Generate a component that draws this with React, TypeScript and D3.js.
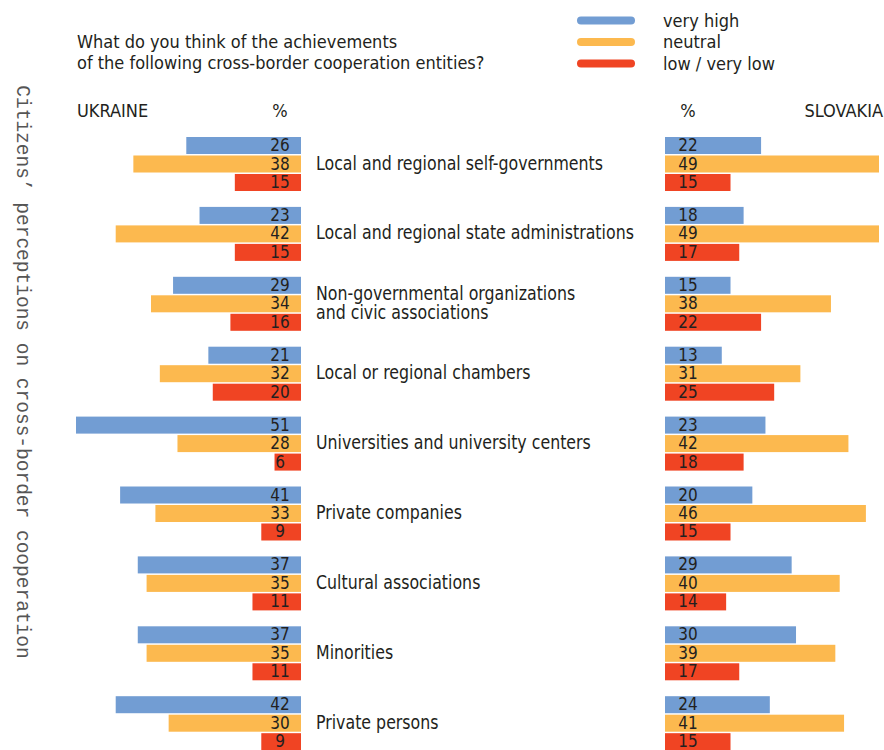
import React from "react";
import * as d3 from "d3";

const categories = [
  ["Local and regional self-governments"],
  ["Local and regional state administrations"],
  ["Non-governmental organizations", "and civic associations"],
  ["Local or regional chambers"],
  ["Universities and university centers"],
  ["Private companies"],
  ["Cultural associations"],
  ["Minorities"],
  ["Private persons"],
];
const seriesNames = ["very high", "neutral", "low / very low"];
const seriesColors = ["#729dd3", "#fcb94f", "#f04423"];

const ukraineVeryHigh = [26, 23, 29, 21, 51, 41, 37, 37, 42];
const ukraineNeutral = [38, 42, 34, 32, 28, 33, 35, 35, 30];
const ukraineLow = [15, 15, 16, 20, 6, 9, 11, 11, 9];

const slovakiaVeryHigh = [22, 18, 15, 13, 23, 20, 29, 30, 24];
const slovakiaNeutral = [49, 49, 38, 31, 42, 46, 40, 39, 41];
const slovakiaLow = [15, 17, 22, 25, 18, 15, 14, 17, 15];

const titleLines = [
  "What do you think of the achievements",
  "of the following cross-border cooperation entities?",
];
const sideTitle = "Citizens’ perceptions on cross-border cooperation";

const FONT = "'DejaVu Sans', sans-serif";
const TEXT = "#231f20";

export default function App() {
  const W = 884, H = 750;
  const ukr = [ukraineVeryHigh, ukraineNeutral, ukraineLow];
  const svk = [slovakiaVeryHigh, slovakiaNeutral, slovakiaLow];
  const idx = categories.map((_, i) => String(i));
  const yGroup = d3.scaleBand<string>().domain(idx).range([137, 137 + 69.9 * 9]).paddingInner(0);
  const yInner = d3.scaleBand<string>().domain(["0", "1", "2"]).range([0, 54]).paddingInner(0.08).paddingOuter(0);
  const xL = d3.scaleLinear().domain([0, 51]).range([301, 76]);
  const xR = d3.scaleLinear().domain([0, 49]).range([665, 879]);
  const bw = yInner.bandwidth();

  return (
    <svg width={W} height={H} style={{ position: "absolute", left: 0, top: 0, background: "#fff", fontStretch: "condensed" }} fontFamily={FONT}>
      {/* side title */}
      <text transform={`translate(22,372) rotate(90)`} textAnchor="middle" dominantBaseline="central"
        fontFamily="'Liberation Mono', 'DejaVu Sans Mono', monospace" fontSize={19.5} fill="#555" style={{ fontStretch: "normal" }}>
        {sideTitle}
      </text>
      {/* title */}
      {titleLines.map((t, i) => (
        <text key={i} x={77} y={48 + i * 21} fontSize={18} fill={TEXT}>{t}</text>
      ))}
      {/* legend */}
      {seriesNames.map((s, i) => (
        <g key={s}>
          <line x1={581} x2={631} y1={20.5 + i * 21.5} y2={20.5 + i * 21.5} stroke={seriesColors[i]} strokeWidth={8} strokeLinecap="round" />
          <text x={663} y={26.5 + i * 21.5} fontSize={18} fill={TEXT}>{s}</text>
        </g>
      ))}
      {/* headers */}
      <text x={77} y={117} fontSize={18} fill={TEXT}>UKRAINE</text>
      <text x={280} y={117} fontSize={18} fill={TEXT} textAnchor="middle">%</text>
      <text x={688} y={117} fontSize={18} fill={TEXT} textAnchor="middle">%</text>
      <text x={883} y={117} fontSize={18} fill={TEXT} textAnchor="end">SLOVAKIA</text>
      {/* bars */}
      {categories.map((lines, ci) => {
        const gy = yGroup(String(ci))!;
        const mid = gy + yInner("1")! + bw / 2;
        return (
          <g key={ci}>
            {[0, 1, 2].map((si) => {
              const y = gy + yInner(String(si))!;
              const vl = ukr[si][ci];
              const vr = svk[si][ci];
              return (
                <g key={si}>
                  <rect x={xL(vl)} y={y} width={xL(0) - xL(vl)} height={bw} fill={seriesColors[si]} />
                  <text x={280} y={y + bw / 2 + 5.5} fontSize={17} fill={TEXT} textAnchor="middle">{vl}</text>
                  <rect x={xR(0)} y={y} width={xR(vr) - xR(0)} height={bw} fill={seriesColors[si]} />
                  <text x={688} y={y + bw / 2 + 5.5} fontSize={17} fill={TEXT} textAnchor="middle">{vr}</text>
                </g>
              );
            })}
            {lines.map((l, li) => (
              <text key={li} transform={`translate(316,${mid + 5.5 + (li - (lines.length - 1) / 2) * 18.5}) scale(0.925,1)`}
                fontSize={19} fill={TEXT}>{l}</text>
            ))}
          </g>
        );
      })}
    </svg>
  );
}
